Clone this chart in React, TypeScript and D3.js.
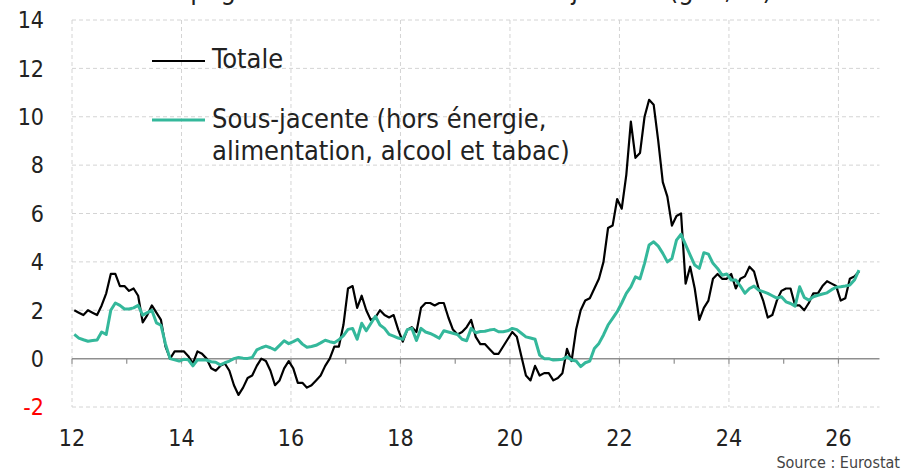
import React from 'react';
import * as d3 from 'd3';

// Monthly data, Jan 2012 -> May 2026 (y/y %)
const totale: number[] = [
  // 2012
  2.0, 1.9, 1.8, 2.0, 1.9, 1.8, 2.2, 2.7, 3.5, 3.5, 3.0, 3.0,
  // 2013
  2.8, 2.9, 2.6, 1.5, 1.8, 2.2, 1.9, 1.6, 0.5, 0.0, 0.3, 0.3,
  // 2014
  0.3, 0.1, -0.2, 0.3, 0.2, 0.0, -0.4, -0.5, -0.3, -0.2, -0.5, -1.1,
  // 2015
  -1.5, -1.2, -0.8, -0.7, -0.3, 0.0, -0.1, -0.5, -1.1, -0.9, -0.4, -0.1,
  // 2016
  -0.4, -1.0, -1.0, -1.2, -1.1, -0.9, -0.7, -0.3, 0.0, 0.5, 0.5, 1.4,
  // 2017
  2.9, 3.0, 2.1, 2.6, 2.0, 1.6, 1.7, 2.0, 1.8, 1.7, 1.8, 1.2,
  // 2018
  0.7, 1.2, 1.3, 1.1, 2.1, 2.3, 2.3, 2.2, 2.3, 2.3, 1.7, 1.2,
  // 2019
  1.0, 1.1, 1.3, 1.6, 0.9, 0.6, 0.6, 0.4, 0.2, 0.2, 0.5, 0.8,
  // 2020
  1.1, 0.9, 0.1, -0.7, -0.9, -0.3, -0.7, -0.6, -0.6, -0.9, -0.8, -0.6,
  // 2021
  0.4, -0.1, 1.2, 2.0, 2.4, 2.5, 2.9, 3.3, 4.0, 5.4, 5.5, 6.6,
  // 2022
  6.2, 7.6, 9.8, 8.3, 8.5, 10.0, 10.7, 10.5, 9.0, 7.3, 6.7, 5.5,
  // 2023
  5.9, 6.0, 3.1, 3.8, 2.9, 1.6, 2.1, 2.4, 3.3, 3.5, 3.3, 3.3,
  // 2024
  3.5, 2.9, 3.3, 3.4, 3.8, 3.6, 2.9, 2.4, 1.7, 1.8, 2.4, 2.8,
  // 2025
  2.9, 2.9, 2.2, 2.2, 2.0, 2.3, 2.7, 2.7, 3.0, 3.2, 3.1, 3.0,
  // 2026
  2.4, 2.5, 3.3, 3.4, 3.6,
];

const sousJacente: number[] = [
  // 2012
  1.0, 0.85, 0.78, 0.72, 0.75, 0.77, 1.1, 1.0, 2.0, 2.3, 2.2, 2.05,
  // 2013
  2.05, 2.1, 2.2, 1.8, 1.9, 2.0, 1.48, 1.38, 0.6, 0.0, -0.05, -0.1,
  // 2014
  -0.03, -0.05, -0.3, -0.05, -0.06, -0.06, -0.13, -0.15, -0.26, -0.17, -0.1, 0.0,
  // 2015
  0.05, 0.02, 0.01, 0.05, 0.36, 0.45, 0.52, 0.45, 0.36, 0.55, 0.74, 0.62,
  // 2016
  0.7, 0.8, 0.6, 0.47, 0.5, 0.55, 0.65, 0.76, 0.7, 0.66, 0.78, 0.95,
  // 2017
  1.21, 1.25, 0.8, 1.46, 1.15, 1.45, 1.75, 1.39, 1.25, 1.0, 0.93, 0.85,
  // 2018
  0.8, 1.2, 1.25, 0.75, 1.25, 1.1, 1.04, 0.95, 0.84, 1.15, 1.1, 1.05,
  // 2019
  1.0, 0.8, 0.74, 1.25, 1.07, 1.12, 1.13, 1.18, 1.21, 1.11, 1.11, 1.15,
  // 2020
  1.25, 1.2, 1.05, 0.9, 0.85, 0.8, 0.15, 0.0, 0.0, -0.06, -0.05, -0.03,
  // 2021
  0.08, -0.06, -0.1, -0.33, -0.17, -0.1, 0.42, 0.63, 0.98, 1.39, 1.66, 1.94,
  // 2022
  2.3, 2.7, 2.97, 3.38, 3.3, 3.94, 4.7, 4.83, 4.65, 4.35, 4.0, 4.14,
  // 2023
  4.9, 5.14, 4.7, 4.28, 3.87, 3.73, 4.38, 4.32, 3.94, 3.73, 3.45, 3.5,
  // 2024
  3.25, 3.25, 3.0, 2.7, 2.9, 3.0, 2.83, 2.77, 2.7, 2.6, 2.5, 2.56,
  // 2025
  2.35, 2.28, 2.17, 2.97, 2.53, 2.42, 2.56, 2.62, 2.67, 2.72, 2.85, 2.95,
  // 2026
  2.97, 3.0, 3.04, 3.25, 3.66,
];

const startYear = 2012;
const yTicks: number[] = [-2, 0, 2, 4, 6, 8, 10, 12, 14];
const xTickYears: number[] = [2012, 2014, 2016, 2018, 2020, 2022, 2024, 2026];
const xTickLabels: string[] = ['12', '14', '16', '18', '20', '22', '24', '26'];
const minorYears: number[] = d3.range(2012, 2027);

const legendLabels: string[][] = [
  ['Totale'],
  ['Sous-jacente (hors énergie,', 'alimentation, alcool et tabac)'],
];
const title = 'Espagne : inflation totale et sous-jacente (g.a., %)';
const source = 'Source : Eurostat';

const FONT = "'DejaVu Sans Condensed', 'Liberation Sans Narrow', sans-serif";
const BLACK = '#000000';
const TEAL = '#34b89b';

export default function App() {
  const W = 920;
  const H = 471;
  const left = 72;
  const right = 879.5;
  const top = 20;
  const bottom = 407;

  const x = d3.scaleLinear().domain([2012, 2026.75]).range([left, right]);
  const y = d3.scaleLinear().domain([-2, 14]).range([bottom, top]);
  const t = (i: number) => startYear + (i + 0.5) / 12;

  const line = d3
    .line<number>()
    .x((_, i) => x(t(i)))
    .y((d) => y(d))
    .curve(d3.curveLinear);

  const y0 = y(0);

  return (
    <svg
      width={W}
      height={H}
      style={{ position: 'absolute', left: 0, top: 0, background: '#fff' }}
      fontFamily={FONT}
    >
      <rect x={0} y={0} width={W} height={H} fill="#fff" />
      {/* title, mostly cut off at the top as in the source picture */}
      <text x={772} y={-1} textAnchor="end" fontSize={27} fill="#222">
        {title}
      </text>

      {/* horizontal grid */}
      {yTicks.map((v) =>
        v === 0 ? null : (
          <line
            key={'hg' + v}
            x1={left}
            x2={right}
            y1={y(v)}
            y2={y(v)}
            stroke="#d4d4d4"
            strokeWidth={1}
            strokeDasharray="4,3"
          />
        )
      )}
      {/* vertical grid */}
      {xTickYears.map((yr) => (
        <line
          key={'vg' + yr}
          x1={x(yr)}
          x2={x(yr)}
          y1={top}
          y2={bottom}
          stroke="#d4d4d4"
          strokeWidth={1}
          strokeDasharray="4,3"
        />
      ))}

      {/* zero line with yearly ticks */}
      <line x1={left} x2={right} y1={y0} y2={y0} stroke="#8f8f8f" strokeWidth={1.5} />
      {minorYears.map((yr) => (
        <line
          key={'mt' + yr}
          x1={x(yr)}
          x2={x(yr)}
          y1={y0}
          y2={y0 + 5}
          stroke="#8f8f8f"
          strokeWidth={1.2}
        />
      ))}

      {/* y tick labels */}
      {yTicks.map((v) => (
        <text
          key={'yl' + v}
          x={44}
          y={y(v)}
          dy="0.36em"
          textAnchor="end"
          fontSize={23}
          fill={v < 0 ? '#ff0000' : '#222'}
        >
          {v}
        </text>
      ))}

      {/* x tick labels */}
      {xTickYears.map((yr, i) => (
        <text key={'xl' + yr} x={x(yr)} y={446} textAnchor="middle" fontSize={23} fill="#222">
          {xTickLabels[i]}
        </text>
      ))}

      {/* series */}
      <path d={line(totale) || ''} fill="none" stroke={BLACK} strokeWidth={2.2} strokeLinejoin="round" />
      <path d={line(sousJacente) || ''} fill="none" stroke={TEAL} strokeWidth={3} strokeLinejoin="round" />

      {/* legend */}
      <line x1={152} x2={205} y1={61} y2={61} stroke={BLACK} strokeWidth={2.2} />
      <text x={212} y={68} fontSize={27} fill="#222">
        {legendLabels[0][0]}
      </text>
      <line x1={152} x2={205} y1={120} y2={120} stroke={TEAL} strokeWidth={3} />
      <text x={212} y={128} fontSize={27} fill="#222">
        {legendLabels[1][0]}
      </text>
      <text x={212} y={160} fontSize={27} fill="#222">
        {legendLabels[1][1]}
      </text>

      {/* source */}
      <text x={900} y={468} textAnchor="end" fontSize={16} fill="#444">
        {source}
      </text>
    </svg>
  );
}
